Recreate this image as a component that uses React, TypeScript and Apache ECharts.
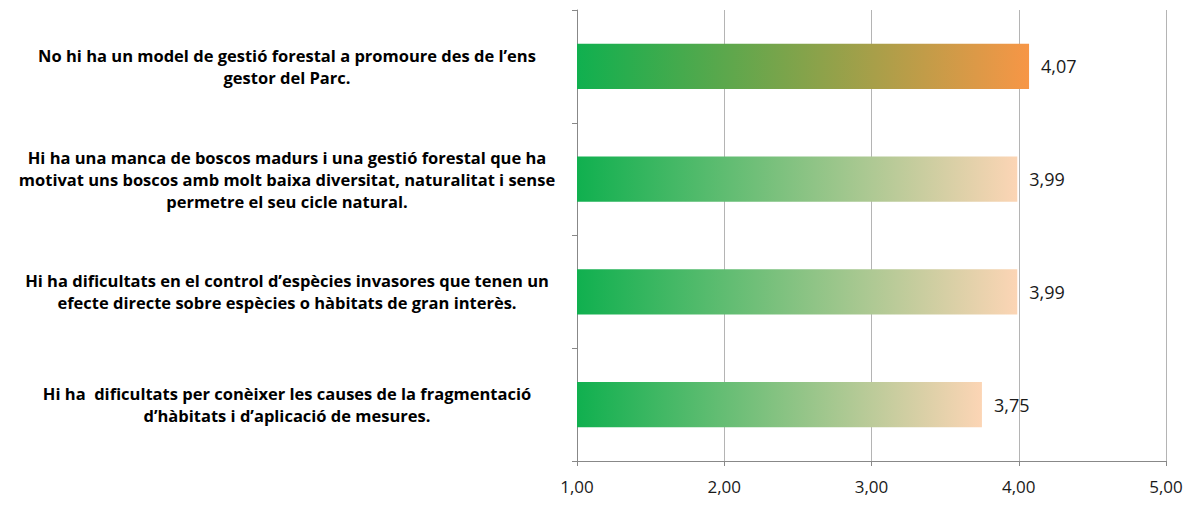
import React, { useEffect, useRef } from "react";
import * as echarts from "echarts";

const categories = [
  "No hi ha un model de gestió forestal a promoure des de l’ens\ngestor del Parc.",
  "Hi ha una manca de boscos madurs i una gestió forestal que ha\nmotivat uns boscos amb molt baixa diversitat, naturalitat i sense\npermetre el seu cicle natural.",
  "Hi ha dificultats en el control d’espècies invasores que tenen un\nefecte directe sobre espècies o hàbitats de gran interès.",
  "Hi ha  dificultats per conèixer les causes de la fragmentació\nd’hàbitats i d’aplicació de mesures.",
];
const values = [4.07, 3.99, 3.99, 3.75];
const endColors = ["#f79646", "#fcd5b5", "#fcd5b5", "#fcd5b5"];
const startColor = "#10b04f";
const xMin = 1;
const xMax = 5;
const xInterval = 1;

const fmt = (v: number) => v.toFixed(2).replace(".", ",");

export default function App() {
  const ref = useRef<HTMLDivElement>(null);
  useEffect(() => {
    document.body.style.margin = "0";
    if (!ref.current) return;
    const chart = echarts.init(ref.current, undefined, { renderer: "svg" });
    const font = "'Open Sans', 'Liberation Sans', Arial, sans-serif";
    chart.setOption({
      animation: false,
      grid: { left: 577, right: 24, top: 10, bottom: 44, containLabel: false },
      xAxis: {
        type: "value",
        min: xMin,
        max: xMax,
        interval: xInterval,
        axisLine: { show: true, lineStyle: { color: "#888888", width: 1 } },
        axisTick: { show: true, length: 5, lineStyle: { color: "#888888" } },
        splitLine: { show: true, lineStyle: { color: "#b4b4b4", width: 1 } },
        axisLabel: {
          formatter: (v: number) => fmt(v),
          color: "#1a1a1a",
          fontSize: 17,
          fontFamily: font,
          margin: 17,
        },
      },
      yAxis: {
        type: "category",
        inverse: true,
        data: categories,
        axisLine: { show: true, lineStyle: { color: "#888888", width: 1 } },
        axisTick: { show: true, length: 5, lineStyle: { color: "#888888" } },
        axisLabel: {
          color: "#000000",
          fontSize: 16.5,
          fontWeight: "bold",
          fontFamily: font,
          align: "center",
          margin: 290,
          lineHeight: 22,
        },
      },
      series: [
        {
          type: "bar",
          barWidth: "40%",
          data: values.map((v, i) => ({
            value: v,
            itemStyle: {
              color: new echarts.graphic.LinearGradient(0, 0, 1, 0, [
                { offset: 0, color: startColor },
                { offset: 1, color: endColors[i] },
              ]),
            },
          })),
          label: {
            show: true,
            position: "right",
            distance: 12,
            formatter: (p: any) => fmt(p.value),
            color: "#1a1a1a",
            fontSize: 18,
            fontFamily: font,
          },
        },
      ],
    });
    return () => chart.dispose();
  }, []);
  return <div ref={ref} style={{ width: 1190, height: 505 }} />;
}
